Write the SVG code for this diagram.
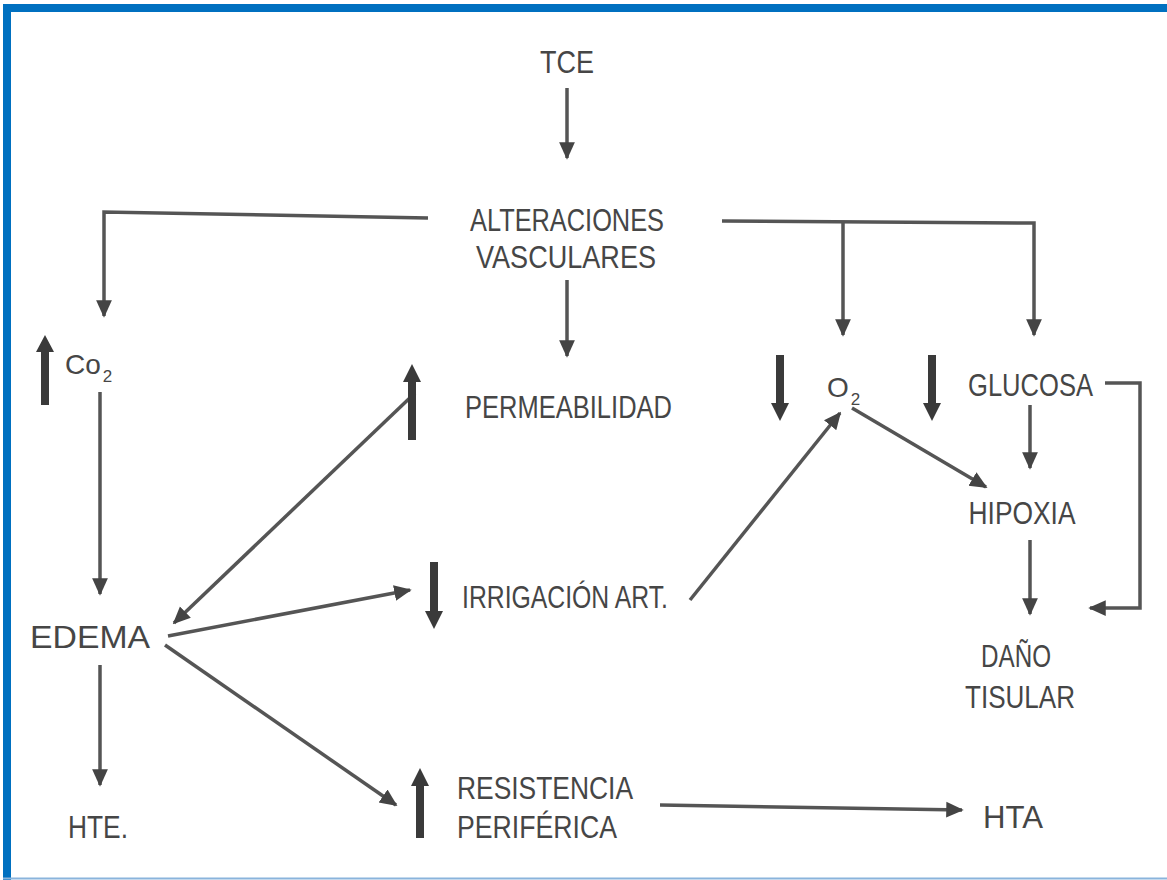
<svg xmlns="http://www.w3.org/2000/svg" width="1167" height="880" viewBox="0 0 1167 880">
<defs>
<marker id="ah" viewBox="0 0 10 10" refX="9" refY="5" markerWidth="5" markerHeight="5" markerUnits="strokeWidth" orient="auto">
<path d="M0,0.5 L10,5 L0,9.5 z" fill="#444"/>
</marker>
<style>
.t{font-family:"Liberation Sans Narrow","Liberation Sans",Arial,sans-serif;font-size:32px;fill:#464646;}
.s{font-size:17px;}
.c{fill:none;stroke:#555;stroke-width:3.5;}
.big{fill:#3a3a3a;}
</style>
</defs>
<rect width="1167" height="880" fill="#fff"/>
<g id="frame">
<rect x="3" y="4" width="1164" height="8" fill="#0070c0"/>
<rect x="3" y="4" width="8" height="876" fill="#0070c0"/>
<line x1="3" y1="878.5" x2="1167" y2="878.5" stroke="#8ab4dc" stroke-width="2"/>
</g>
<g id="connectors">
<line class="c" x1="567" y1="88" x2="567" y2="158" marker-end="url(#ah)"/>
<polyline class="c" points="428,218 104,212 104,316" marker-end="url(#ah)"/>
<line class="c" x1="567" y1="280" x2="567" y2="356" marker-end="url(#ah)"/>
<polyline class="c" points="722,221 1034,223 1034,335" marker-end="url(#ah)"/>
<line class="c" x1="843" y1="222" x2="843" y2="335" marker-end="url(#ah)"/>
<line class="c" x1="100" y1="392" x2="100" y2="594" marker-end="url(#ah)"/>
<line class="c" x1="100" y1="665" x2="100" y2="785" marker-end="url(#ah)"/>
<line class="c" x1="415" y1="393" x2="174" y2="623" marker-end="url(#ah)"/>
<line class="c" x1="168" y1="636" x2="410" y2="590" marker-end="url(#ah)"/>
<line class="c" x1="165" y1="645" x2="396" y2="805" marker-end="url(#ah)"/>
<line class="c" x1="690" y1="600" x2="840" y2="413" marker-end="url(#ah)"/>
<line class="c" x1="852" y1="408" x2="986" y2="487" marker-end="url(#ah)"/>
<line class="c" x1="1030" y1="405" x2="1030" y2="468" marker-end="url(#ah)"/>
<line class="c" x1="1030" y1="540" x2="1030" y2="614" marker-end="url(#ah)"/>
<polyline class="c" points="1105,383 1140,383 1140,608 1090,608" marker-end="url(#ah)"/>
<line class="c" x1="660" y1="805" x2="962" y2="810" marker-end="url(#ah)"/>
</g>
<g id="n-tce"><text class="t" x="567" y="73" text-anchor="middle" textLength="54" lengthAdjust="spacingAndGlyphs">TCE</text></g>
<g id="n-alteraciones">
<text class="t" x="567" y="231" text-anchor="middle" textLength="194" lengthAdjust="spacingAndGlyphs">ALTERACIONES</text>
<text class="t" x="566" y="268" text-anchor="middle" textLength="180" lengthAdjust="spacingAndGlyphs">VASCULARES</text>
</g>
<g id="n-co2">
<path class="big" d="M41,405 V352 H36 L45,335 L54,352 H49 V405 z"/>
<text class="t" x="65" y="374" style="font-size:28px">Co<tspan class="s" dx="2" dy="8">2</tspan></text>
</g>
<g id="n-permeabilidad">
<path class="big" d="M408,440 V382 H403 L412,364 L421,382 H416 V440 z"/>
<text class="t" x="465" y="418" textLength="207" lengthAdjust="spacingAndGlyphs">PERMEABILIDAD</text>
</g>
<g id="n-o2">
<path class="big" d="M776,355 V403 H771 L780,421 L789,403 H784 V355 z"/>
<text class="t" x="827" y="397" style="font-size:28px">O<tspan class="s" dx="2" dy="8">2</tspan></text>
</g>
<g id="n-glucosa">
<path class="big" d="M928,355 V403 H923 L932,421 L941,403 H936 V355 z"/>
<text class="t" x="968" y="396" textLength="125" lengthAdjust="spacingAndGlyphs">GLUCOSA</text>
</g>
<g id="n-hipoxia"><text class="t" x="1022" y="524" text-anchor="middle" textLength="107" lengthAdjust="spacingAndGlyphs">HIPOXIA</text></g>
<g id="n-dano">
<text class="t" x="1016" y="667" text-anchor="middle" textLength="70" lengthAdjust="spacingAndGlyphs">DAÑO</text>
<text class="t" x="1020" y="708" text-anchor="middle" textLength="110" lengthAdjust="spacingAndGlyphs">TISULAR</text>
</g>
<g id="n-irrigacion">
<path class="big" d="M430,562 V611 H425 L434,629 L443,611 H438 V562 z"/>
<text class="t" x="462" y="608" textLength="206" lengthAdjust="spacingAndGlyphs">IRRIGACIÓN ART.</text>
</g>
<g id="n-edema"><text class="t" x="90" y="648" text-anchor="middle" textLength="120" lengthAdjust="spacingAndGlyphs">EDEMA</text></g>
<g id="n-hte"><text class="t" x="98" y="838" text-anchor="middle" textLength="60" lengthAdjust="spacingAndGlyphs">HTE.</text></g>
<g id="n-resistencia">
<path class="big" d="M416,838 V786 H411 L420,768 L429,786 H424 V838 z"/>
<text class="t" x="457" y="799" textLength="176" lengthAdjust="spacingAndGlyphs">RESISTENCIA</text>
<text class="t" x="457" y="838" textLength="160" lengthAdjust="spacingAndGlyphs">PERIFÉRICA</text>
</g>
<g id="n-hta"><text class="t" x="983" y="828" textLength="60" lengthAdjust="spacingAndGlyphs">HTA</text></g>
</svg>
